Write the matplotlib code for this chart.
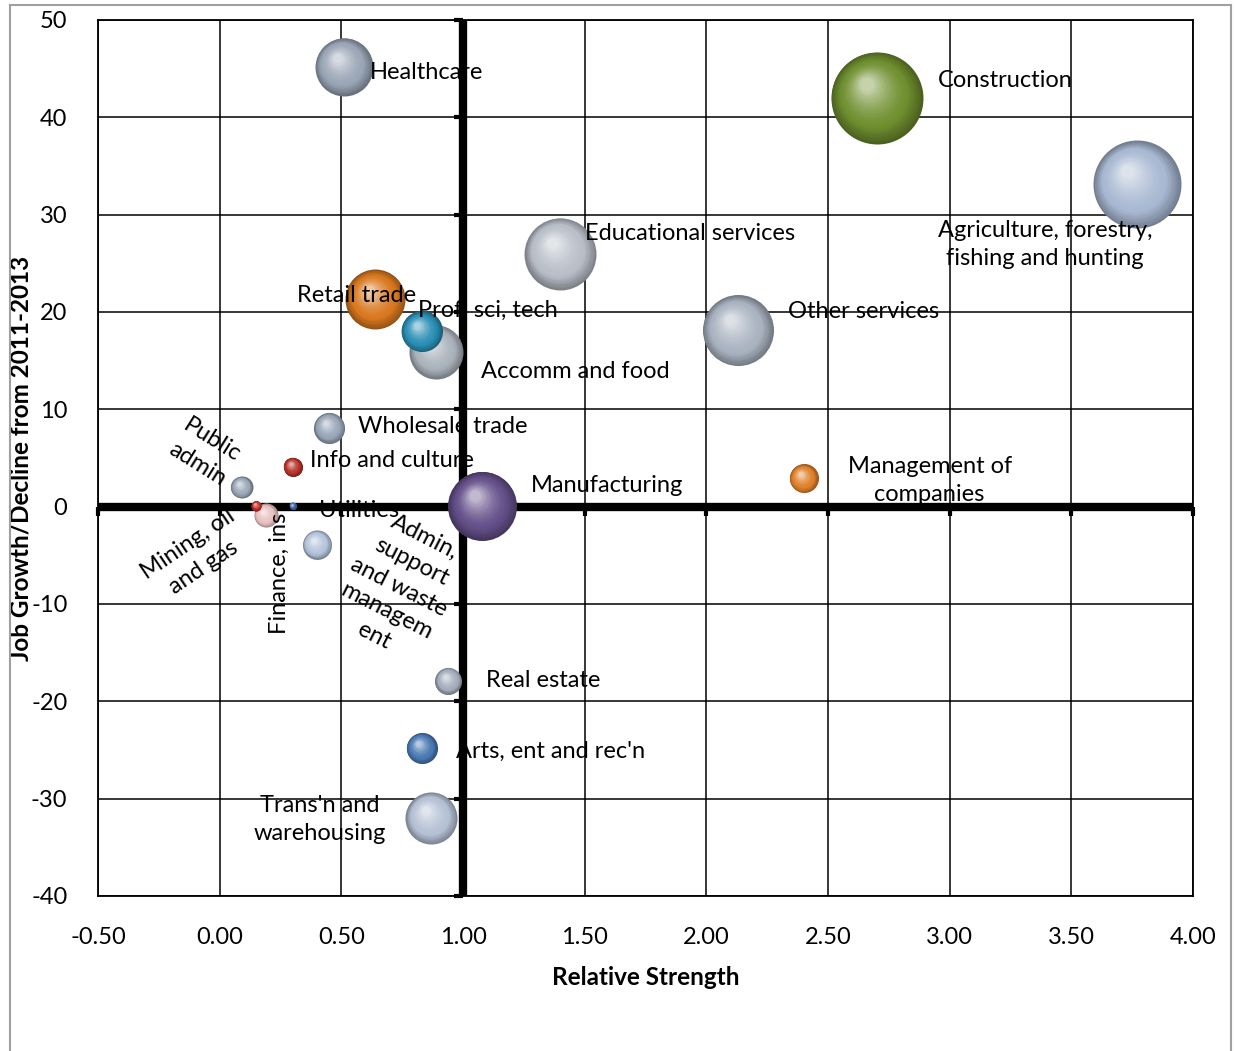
import numpy as np
import matplotlib
matplotlib.use('Agg')
import matplotlib.pyplot as plt
from matplotlib.colors import to_rgb
from matplotlib.transforms import ScaledTranslation
from matplotlib.lines import Line2D

plt.rcParams['font.family'] = ['Lato', 'DejaVu Sans']
plt.rcParams['axes.unicode_minus'] = False

# industries: relative strength, job growth 2011-2013, bubble size
industries = ['Healthcare', 'Construction', 'Agriculture, forestry,\nfishing and hunting',
              'Educational services', 'Retail trade', 'Prof, sci, tech', 'Accomm and food',
              'Other services', 'Wholesale trade', 'Info and culture', 'Public\nadmin',
              'Management of\ncompanies', 'Manufacturing', 'Mining, oil\nand gas', 'Finance, ins',
              'Utilities', 'Admin,\nsupport\nand waste\nmanagem\nent', 'Real estate',
              "Arts, ent and rec'n", "Trans'n and\nwarehousing"]
rel_strength = [0.51, 2.70, 3.77, 1.40, 0.64, 0.83, 0.89, 2.13, 0.45, 0.30, 0.09,
                2.40, 1.08, 0.15, 0.19, 0.30, 0.40, 0.94, 0.83, 0.87]
job_growth = [45.2, 42.0, 33.1, 26.0, 21.3, 18.0, 15.9, 18.1, 8.1, 4.1, 2.0,
              2.9, 0.1, 0.1, -0.9, 0.1, -3.9, -17.9, -24.8, -32.0]
bubble_size = [39.7, 100, 91.5, 61.2, 42.5, 19.9, 34.5, 59.6, 11.4, 4.3, 5.7,
               9.9, 56.3, 1.2, 6.8, 0.6, 9.9, 8.6, 11.4, 32.0]

colors = ['#9aa6b6', '#6f8f2f', '#a8b8d2', '#b8bec8', '#d9781f', '#2b8fb5', '#aab2bc',
          '#a9b3c0', '#98a6b8', '#b8322a', '#9ba8b8', '#e0802a', '#65508a', '#c0302a',
          '#e8c0c0', '#3a6aa8', '#b4c4dc', '#a4aebc', '#4a7ab4', '#b4c0d4']

# label placement: offset from bubble (px), alignment, rotation
label_pos = [((26, -6), 'left', 0), ((61, 17), 'left', 0), ((-92, -60), 'center', 0),
             ((25, 20), 'left', 0), ((-78, 4), 'left', 0), ((-4, 21), 'left', 0),
             ((45, -20), 'left', 0), ((50, 19), 'left', 0), ((29, 1), 'left', 0),
             ((17, 6), 'left', 0), ((-37, 35), 'center', -32), ((126, -2), 'center', 0),
             ((48, 20), 'left', 0), ((-60, -50), 'center', 34), ((13, -58), 'center', 90),
             ((26, -5), 'left', 0), ((82, -42), 'center', -27), ((38, 0), 'left', 0),
             ((34, -3), 'left', 0), ((-112, -1), 'center', 0)]

xticks = np.arange(-0.5, 4.01, 0.5)
yticks = np.arange(-40, 51, 10)

fig = plt.figure(figsize=(12.35, 10.51), dpi=100)
ax = fig.add_axes([98 / 1235, 1 - 896 / 1051, 1095 / 1235, 876 / 1051])
ax.set_xlim(-0.5, 4.0)
ax.set_ylim(-40, 50)
ax.set_xticks(xticks)
ax.set_yticks(yticks)
ax.set_xticklabels(['%.2f' % v for v in xticks])
ax.tick_params(length=0, labelsize=17, colors='black')
ax.tick_params(axis='y', pad=22)
ax.tick_params(axis='x', pad=22)
ax.grid(True, color='black', linewidth=1.1, zorder=1)
ax.set_axisbelow(True)
for sp in ax.spines.values():
    sp.set_linewidth(1.3)

# thick crossing axes at x=1 and y=0
ax.axvline(1.0, color='black', linewidth=6, zorder=2)
ax.axhline(0, color='black', linewidth=6, zorder=2)
ax.plot(np.full(len(yticks), 1.0), yticks, linestyle='none', marker=0,
        markersize=6.5, markeredgewidth=3, color='black', zorder=2, clip_on=False)
ax.plot(xticks, np.zeros(len(xticks)), linestyle='none', marker=3,
        markersize=6.5, markeredgewidth=3, color='black', zorder=2, clip_on=False)

R_MAX = 46  # px radius of the largest bubble


def shaded_bubble(x, y, r, color):
    base = np.array(to_rgb(color))
    dark = base * 0.68
    light = base + (1 - base) * 0.6
    n = 30
    for i in range(n):
        t = i / (n - 1)
        rr = r * (1 - 0.85 * t)
        if t < 0.3:
            c = dark + (base - dark) * (t / 0.3)
        else:
            c = base + (light - base) * ((t - 0.3) / 0.7) ** 1.5
        off = ScaledTranslation(-0.22 * r * t / 100, 0.3 * r * t / 100, fig.dpi_scale_trans)
        ax.scatter([x], [y], s=(2 * rr * 0.72) ** 2, color=np.clip(c, 0, 1),
                   linewidths=0, transform=ax.transData + off, zorder=3)


order = np.argsort(bubble_size)[::-1]
for k in order:
    r = R_MAX * np.sqrt(bubble_size[k] / max(bubble_size))
    shaded_bubble(rel_strength[k], job_growth[k], r, colors[k])

for k, name in enumerate(industries):
    (dx, dy), ha, rot = label_pos[k]
    ax.annotate(name, (rel_strength[k], job_growth[k]), xytext=(dx, dy),
                textcoords='offset pixels', ha=ha, va='center', rotation=rot,
                rotation_mode='anchor', multialignment='center', fontsize=17,
                linespacing=1.4, zorder=4)

ax.set_xlabel('Relative Strength', fontsize=17.5, fontweight='bold')
ax.set_ylabel('Job Growth/Decline from 2011-2013', fontsize=17.5, fontweight='bold')
ax.xaxis.set_label_coords(0.5, -0.08)
ax.yaxis.set_label_coords(-0.06, 0.5)

# outer chart frame
for xs, ys in [([10, 10], [5, 1051]), ([10, 1231], [5, 5]), ([1231, 1231], [5, 1051])]:
    fig.add_artist(Line2D([v / 1235 for v in xs], [1 - v / 1051 for v in ys],
                          color='#a0a0a0', linewidth=1.5))

plt.savefig('out.png', dpi=100)
